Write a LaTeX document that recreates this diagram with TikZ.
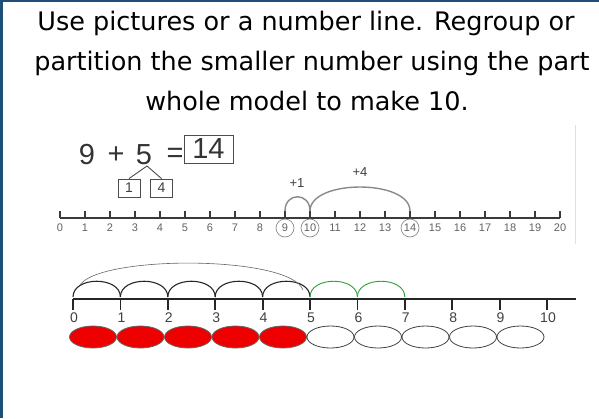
\documentclass[tikz,border=0pt]{standalone}
\usepackage{fontspec}
\setmainfont{DejaVu Sans}
\newfontfamily\arialfont{Liberation Sans}
\usetikzlibrary{shapes.geometric,calc,positioning}
\definecolor{frame}{HTML}{1F4E79}
\definecolor{rule}{HTML}{3A3A3A}
\definecolor{soft}{HTML}{8A8A8A}
\definecolor{hop}{HTML}{2E9E3A}
\definecolor{counter}{HTML}{EE0000}
\tikzset{
  heading/.style={font=\fontsize{25.5}{30}\selectfont,text=black,inner sep=0pt,anchor=base},
  sumtext/.style={font=\arialfont\fontsize{29}{30}\selectfont,text=black!80,inner sep=0pt},
  sumbox/.style={draw=black!70,line width=1pt,minimum width=49pt,minimum height=28pt,inner sep=0pt,font=\arialfont\fontsize{29}{30}\selectfont,text=black!80},
  partbox/.style={draw=black!70,line width=0.9pt,minimum width=22pt,minimum height=18pt,inner sep=0pt,font=\arialfont\fontsize{14}{16}\selectfont,text=black!75},
  numlab/.style={font=\arialfont\fontsize{11}{12}\selectfont,text=black!62,inner sep=1pt},
  ringlab/.style={numlab,circle,draw=black!45,line width=0.7pt,minimum size=18pt,inner sep=0pt},
  steplab/.style={font=\arialfont\fontsize{13}{14}\selectfont,text=black!75,inner sep=0pt},
  jump/.style={draw=soft,line width=1.4pt},
  hump/.style={draw=black!85,line width=1.1pt},
  greenhump/.style={draw=hop,line width=0.9pt},
  bigjump/.style={draw=black!60,line width=0.6pt},
  bead/.style={ellipse,draw=black!75,line width=0.8pt,minimum width=47pt,minimum height=22pt,inner sep=0pt},
  redbead/.style={bead,fill=counter,draw=black!60},
  bottomlab/.style={font=\arialfont\fontsize{14}{14}\selectfont,text=black!75,inner sep=0pt},
}

\begin{document}
\begin{tikzpicture}[x=1pt,y=1pt]
  \useasboundingbox (0,0) rectangle (599,-418);
  \fill[frame] (0,0) rectangle (3,-418);
  \fill[frame] (0,0) rectangle (599,-1.6);
  % heading
  \node[heading] (line1) at (306,-30) {Use pictures or a number line. Regroup or};
  \node[heading] (line2) at (312,-70) {partition the smaller number using the part};
  \node[heading] (line3) at (307,-110) {whole model to make 10.};
  % part whole sum
  \node[sumtext] (nine) at (87,-155) {9};
  \node[sumtext] (plus) at (116,-155) {+};
  \node[sumtext] (five) at (144,-155) {5};
  \node[sumtext] (equals) at (175,-155) {=};
  \node[sumbox] (sum) at (208.5,-149) {14};
  \node[partbox] (one) at (129,-188) {1};
  \node[partbox] (four) at (161.5,-188) {4};
  \coordinate (split) at (147,-166);
  \draw[black!70,line width=0.9pt] (one.north) -- (split) -- (four.north);
  % number line to 20
  \foreach \k in {0,...,20} \coordinate (t\k) at ({60+25*\k},-218);
  \draw[rule,line width=2.4pt] (t0) -- (t20);
  \foreach \k in {0,...,20} \draw[rule,line width=1.6pt] (t\k) -- ++(0,7);
  \foreach \k in {0,...,8,11,12,13,15,16,17,18,19,20}
    \node[numlab] (n\k) at ($(t\k)+(0,-10)$) {\k};
  \foreach \k in {9,10,14}
    \node[ringlab] (n\k) at ($(t\k)+(0,-10)$) {\k};
  \draw[jump] ($(t9)+(0,7)$) .. controls +(0,19) and +(0,19) .. ($(t10)+(0,7)$);
  \draw[jump] ($(t10)+(0,7)$) .. controls +(0,32) and +(0,32) .. ($(t14)+(0,7)$);
  \node[steplab] (plusone) at (297,-183) {+1};
  \node[steplab] (plusfour) at (360,-172) {+4};
  \draw[black!12,line width=0.8pt] (575,-125) -- (575,-244);
  % number line to 10
  \foreach \k in {0,...,10} \coordinate (b\k) at ({73+47.4*\k},-299);
  \coordinate (lineend) at (576,-299);
  \draw[black!85,line width=1.2pt] (b0) -- (lineend);
  \foreach \k in {0,...,10} {
    \draw[black!85,line width=1.8pt] (b\k) -- ++(0,-11);
    \node[bottomlab] (m\k) at ($(b\k)+(1,-19)$) {\k};
  }
  \foreach \k/\j in {0/1,1/2,2/3,3/4,4/5}
    \draw[hump] ($(b\k)+(0,2)$) .. controls +(0,21) and +(0,21) .. ($(b\j)+(0,2)$);
  \foreach \k/\j in {5/6,6/7}
    \draw[greenhump] ($(b\k)+(0,2)$) .. controls +(0,21) and +(0,21) .. ($(b\j)+(0,2)$);
  \draw[bigjump] ($(b0)+(7,14)$) .. controls +(20,30) and +(-13,35) .. ($(b5)+(-7,9)$);
  % counters
  \foreach \i in {0,...,4} \node[redbead] (r\i) at ({93+47.5*\i},-337) {};
  \foreach \i in {5,...,9} \node[bead] (w\i) at ({93+47.5*\i},-337) {};
\end{tikzpicture}
\end{document}
